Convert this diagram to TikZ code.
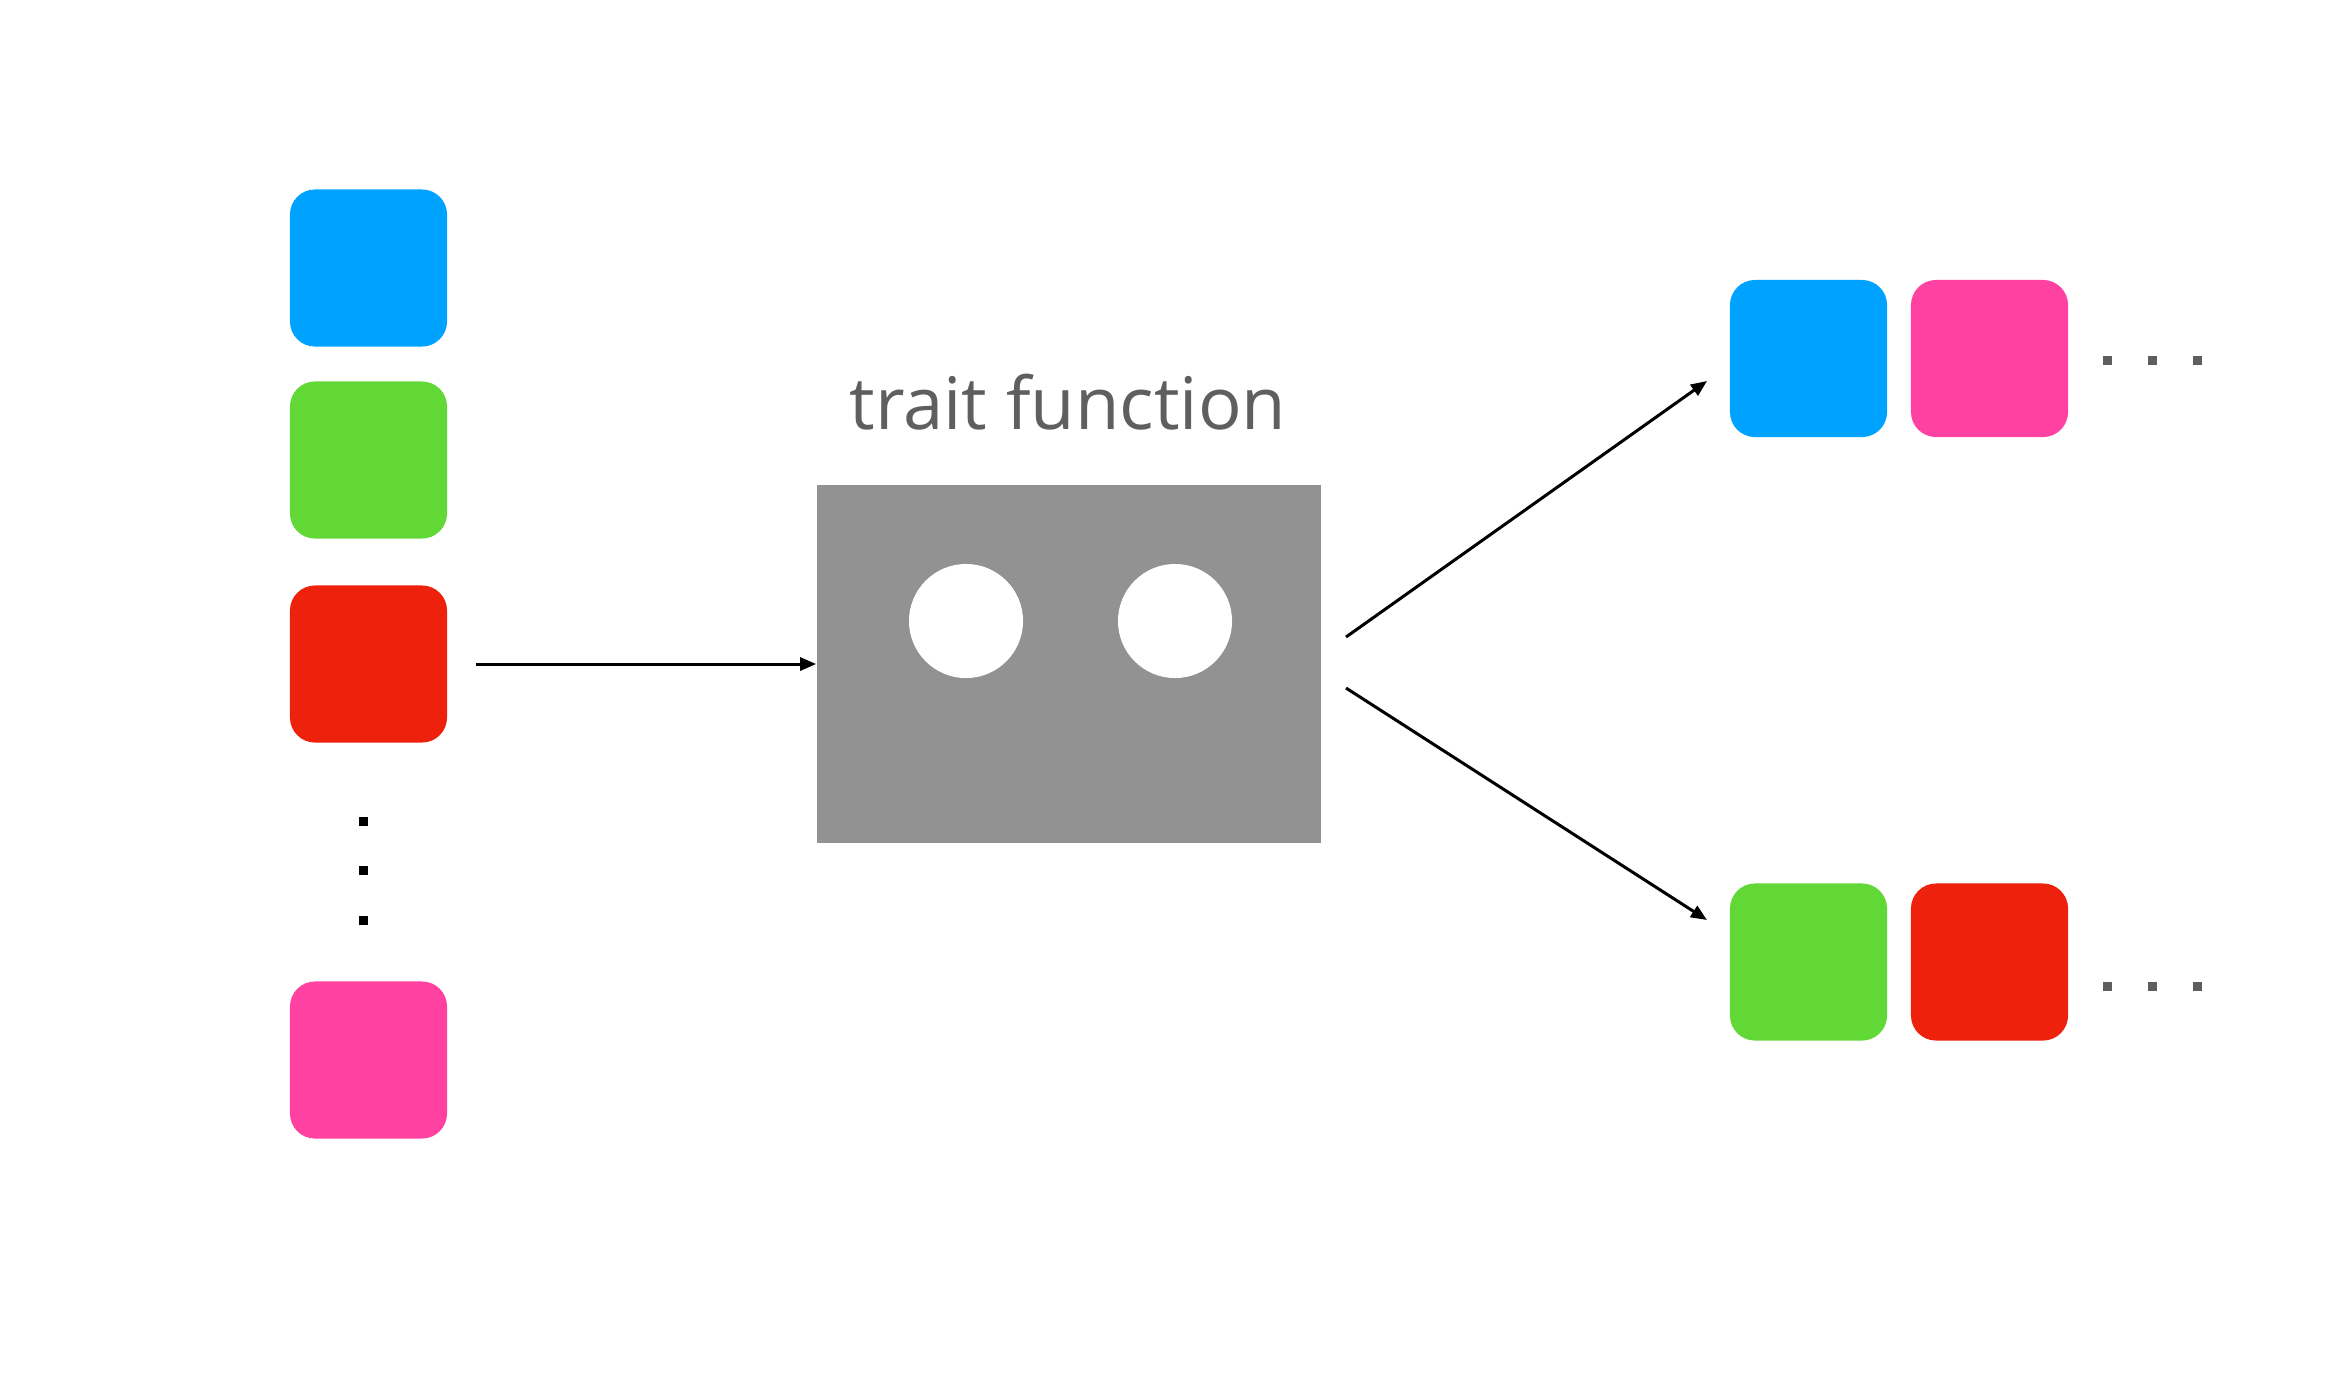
\documentclass[tikz,border=0pt]{standalone}
\usepackage{fontspec}
\setmainfont{Open Sans}
\usetikzlibrary{arrows.meta}
\definecolor{cblue}{HTML}{00A2FF}
\definecolor{cgreen}{HTML}{61D836}
\definecolor{cred}{HTML}{EE220C}
\definecolor{cpink}{HTML}{FF42A1}
\definecolor{cbox}{HTML}{929292}
\definecolor{ctext}{HTML}{5F5F5F}
\definecolor{cdots}{HTML}{5E5E5E}
\begin{document}
\begin{tikzpicture}[x=0.01cm,y=-0.01cm,
  tile/.style={rounded corners=0.25cm, minimum width=1.57cm, minimum height=1.57cm, inner sep=0pt, fill=#1},
  sdot/.style={inner sep=0pt, minimum size=0.09cm, fill=#1},
  holes/.style={circle, fill=white, inner sep=0pt, minimum size=1.14cm},
  conn/.style={line width=0.03cm, -{Triangle[length=0.16cm,width=0.13cm]}}]
\useasboundingbox (0,0) rectangle (2328,1390);
% left column
\node[tile=cblue]  (l1) at (368.5,268) {};
\node[tile=cgreen] (l2) at (368.5,460) {};
\node[tile=cred]   (l3) at (368.5,664) {};
\node[sdot=black] (ld1) at (363,821) {};
\node[sdot=black] (ld2) at (363,870) {};
\node[sdot=black] (ld3) at (363,920) {};
\node[tile=cpink]  (l4) at (368.5,1060) {};
% trait function box
\node[fill=cbox, inner sep=0pt, minimum width=5.04cm, minimum height=3.57cm] (box) at (1069,664) {};
\node[holes] (h1) at (966,621) {};
\node[holes] (h2) at (1175,621) {};
\node[anchor=base, text=ctext, font=\fontsize{20.6}{24}\selectfont, inner sep=0pt] (title) at (1068,429) {trait function};
% right rows
\node[tile=cblue]  (r1) at (1808.5,358.5) {};
\node[tile=cpink]  (r2) at (1989.5,358.5) {};
\node[sdot=cdots] (rd1) at (2107,360) {};
\node[sdot=cdots] (rd2) at (2152,360) {};
\node[sdot=cdots] (rd3) at (2197,360) {};
\node[tile=cgreen] (s1) at (1808.5,962) {};
\node[tile=cred]   (s2) at (1989.5,962) {};
\node[sdot=cdots] (sd1) at (2107,986) {};
\node[sdot=cdots] (sd2) at (2152,986) {};
\node[sdot=cdots] (sd3) at (2197,986) {};
% connectors
\coordinate (a0) at (476,664);
\coordinate (u0) at (1346,637);
\coordinate (u1) at (1707,381);
\coordinate (d0) at (1346,688);
\coordinate (d1) at (1707,920);
\draw[conn] (a0) -- (box.west);
\draw[conn] (u0) -- (u1);
\draw[conn] (d0) -- (d1);
\end{tikzpicture}
\end{document}
